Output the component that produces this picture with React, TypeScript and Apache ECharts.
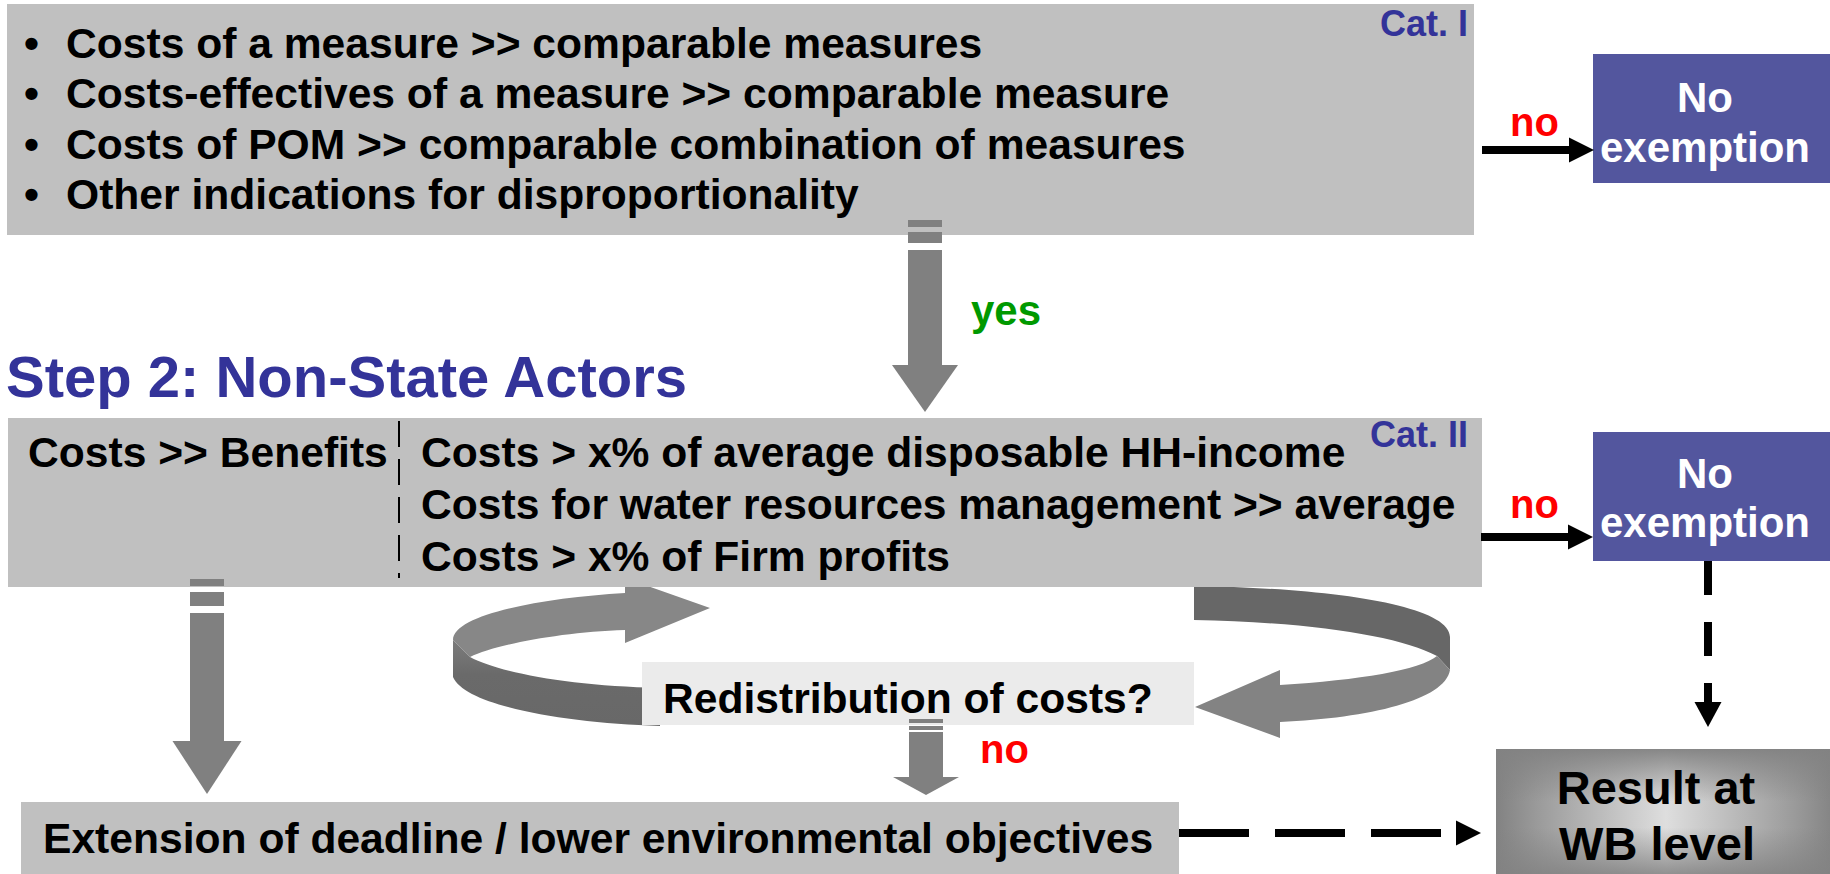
import React, { useEffect, useRef } from "react";
import * as echarts from "echarts";

const FONT = '"Liberation Sans", Arial, Helvetica, sans-serif';
const BODY = 42.6;

// ---- texts ----
const step1Bullets = [
  "Costs of a measure >> comparable measures",
  "Costs-effectives of a measure >> comparable measure",
  "Costs of POM >> comparable combination of measures",
  "Other indications for disproportionality",
];
const step1Baselines = [57.5, 108, 158.5, 209];
const step2Title = "Step 2: Non-State Actors";
const step2Left = "Costs >> Benefits";
const step2Right = [
  "Costs > x% of average disposable HH-income",
  "Costs for water resources management >> average",
  "Costs > x% of Firm profits",
];
const step2Baselines = [467, 519, 571];
const catLabels = ["Cat. I", "Cat. II"];
const noExemption = ["No", "exemption"];
const redistribution = "Redistribution of costs?";
const extension = "Extension of deadline / lower environmental objectives";
const resultLines = ["Result at", "WB level"];

// ---- colours ----
const BOX_GRAY = "#c0c0c0";
const ARROW_GRAY = "#808080";
const BLUE = "#333399";
const BOX_BLUE = "#53569e";

// ---- loop arrow shapes ----
const loopPaths: Record<string, string> = {
  loopLeftTop:
    "M 453 640 C 453 615 540 598 625 593 L 625 578 L 710 608 L 625 643 L 625 630 C 560 632 495 645 470 657 Z",
  loopLeftBottom:
    "M 453 640 L 470 657 C 500 673 570 686 660 688 L 660 726 C 560 723 465 705 453 677 Z",
  loopRightTop:
    "M 1194 586 C 1330 588 1450 605 1450 637 L 1450 670 L 1437 656 C 1400 636 1310 622 1194 620 Z",
  loopRightBottom:
    "M 1437 656 L 1450 670 C 1445 700 1370 718 1280 722 L 1280 738 L 1195 707 L 1280 670 L 1280 685 C 1360 680 1420 670 1437 656 Z",
};
let registered = false;
function registerShapes() {
  if (registered) return;
  registered = true;
  Object.keys(loopPaths).forEach((k) => {
    echarts.graphic.registerShape(k, echarts.graphic.extendPath(loopPaths[k], {}) as any);
  });
}

function txt(
  text: string,
  x: number,
  baseline: number,
  size: number,
  fill: string,
  align: "left" | "center" | "right" = "left"
) {
  return {
    type: "text",
    x,
    y: baseline - 0.347 * size,
    silent: true,
    style: {
      text,
      fill,
      align,
      verticalAlign: "middle",
      font: `bold ${size}px ${FONT}`,
    },
  };
}

function rect(x: number, y: number, w: number, h: number, fill: any) {
  return { type: "rect", shape: { x, y, width: w, height: h }, style: { fill } };
}

function blockArrow(
  cx: number,
  shaftW: number,
  headW: number,
  bits: [number, number][],
  shaftTop: number,
  headTop: number,
  tipY: number
) {
  const els: any[] = [];
  bits.forEach(([a, b]) => els.push(rect(cx - shaftW / 2, a, shaftW, b - a, ARROW_GRAY)));
  els.push(rect(cx - shaftW / 2, shaftTop, shaftW, headTop - shaftTop + 1, ARROW_GRAY));
  els.push({
    type: "polygon",
    shape: {
      points: [
        [cx - headW / 2, headTop],
        [cx + headW / 2, headTop],
        [cx, tipY],
      ],
    },
    style: { fill: ARROW_GRAY },
  });
  return els;
}

function hArrow(x1: number, x2: number, y: number, dash?: number[]) {
  return [
    {
      type: "line",
      shape: { x1, y1: y, x2: x2 - 22, y2: y },
      style: { stroke: "#000", lineWidth: 8, lineDash: dash || null },
    },
    {
      type: "polygon",
      shape: {
        points: [
          [x2 - 25, y - 12.5],
          [x2, y],
          [x2 - 25, y + 12.5],
        ],
      },
      style: { fill: "#000" },
    },
  ];
}

function buildOption() {
  const els: any[] = [];

  // loop arrows (behind boxes)
  els.push({ type: "loopLeftTop", style: { fill: "#878787" } });
  els.push({
    type: "loopLeftBottom",
    style: {
      fill: {
        type: "linear",
        x: 0,
        y: 0,
        x2: 0,
        y2: 1,
        colorStops: [
          { offset: 0, color: "#7c7c7c" },
          { offset: 0.4, color: "#6a6a6a" },
          { offset: 1, color: "#686868" },
        ],
      },
    },
  });
  els.push({ type: "loopRightTop", style: { fill: "#676767" } });
  els.push({ type: "loopRightBottom", style: { fill: "#838383" } });

  // boxes
  els.push(rect(7, 4, 1467, 231, BOX_GRAY));
  els.push(rect(8, 418, 1474, 169, BOX_GRAY));
  els.push(rect(21, 802, 1158, 80, BOX_GRAY));
  els.push(rect(642, 662, 552, 63, "#ebebeb"));
  els.push(rect(1593, 54, 245, 129, BOX_BLUE));
  els.push(rect(1593, 432, 245, 129, BOX_BLUE));

  // result box with path-like gradient
  els.push(
    rect(1496, 749, 340, 131, {
      type: "linear",
      x: 0,
      y: 0,
      x2: 1,
      y2: 0,
      colorStops: [
        { offset: 0, color: "#828282" },
        { offset: 0.12, color: "#9a9a9a" },
        { offset: 0.5, color: "#dedede" },
        { offset: 0.88, color: "#9a9a9a" },
        { offset: 1, color: "#828282" },
      ],
    })
  );
  els.push(
    rect(1496, 749, 340, 131, {
      type: "linear",
      x: 0,
      y: 0,
      x2: 0,
      y2: 1,
      colorStops: [
        { offset: 0, color: "rgba(130,130,130,0.95)" },
        { offset: 0.4, color: "rgba(130,130,130,0)" },
        { offset: 0.6, color: "rgba(130,130,130,0)" },
        { offset: 1, color: "rgba(130,130,130,0.95)" },
      ],
    })
  );

  // dashed divider in step 2 box
  els.push({
    type: "line",
    shape: { x1: 399, y1: 421, x2: 399, y2: 578 },
    style: { stroke: "#000", lineWidth: 2, lineDash: [26, 12] },
  });

  // block arrows
  els.push(...blockArrow(925, 34, 66, [[220, 227], [232, 243]], 250, 365, 412));
  els.push(...blockArrow(207, 34, 69, [[579, 586], [592, 606]], 613, 741, 794));
  els.push(...blockArrow(926, 34, 66, [[719, 723], [726, 730]], 732, 777, 795));

  // solid black arrows
  els.push(...hArrow(1482, 1594, 150));
  els.push(...hArrow(1481, 1593, 537));
  // dashed arrows
  els.push(...hArrow(1179, 1481, 833, [70, 26]));
  els.push({
    type: "line",
    shape: { x1: 1708, y1: 561, x2: 1708, y2: 703 },
    style: { stroke: "#000", lineWidth: 8, lineDash: [34, 27] },
  });
  els.push({
    type: "polygon",
    shape: {
      points: [
        [1694.5, 702],
        [1721.5, 702],
        [1708, 727],
      ],
    },
    style: { fill: "#000" },
  });

  // texts: step 1 box
  step1Bullets.forEach((t, i) => {
    els.push(txt("\u2022", 24, step1Baselines[i], BODY, "#000"));
    els.push(txt(t, 66, step1Baselines[i], BODY, "#000"));
  });
  els.push(txt(catLabels[0], 1468, 35.5, 36, BLUE, "right"));

  // step 2
  els.push(txt(step2Title, 6, 397, 58, BLUE));
  els.push(txt(step2Left, 28, step2Baselines[0], BODY, "#000"));
  step2Right.forEach((t, i) => els.push(txt(t, 421, step2Baselines[i], BODY, "#000")));
  els.push(txt(catLabels[1], 1468, 447, 36, BLUE, "right"));

  // no exemption boxes
  els.push(txt(noExemption[0], 1705, 112, 42, "#fff", "center"));
  els.push(txt(noExemption[1], 1705, 162, 42, "#fff", "center"));
  els.push(txt(noExemption[0], 1705, 488, 42, "#fff", "center"));
  els.push(txt(noExemption[1], 1705, 537, 42, "#fff", "center"));

  // yes / no labels
  els.push(txt("yes", 971, 325, 42, "#009900"));
  els.push(txt("no", 1510, 136, 40, "#ff0000"));
  els.push(txt("no", 1510, 518, 40, "#ff0000"));
  els.push(txt("no", 980, 763, 40, "#ff0000"));

  els.push(txt(redistribution, 663, 713, BODY, "#000"));
  els.push(txt(extension, 43, 853, BODY, "#000"));
  els.push(txt(resultLines[0], 1656, 804, 47, "#000", "center"));
  els.push(txt(resultLines[1], 1657, 860, 47, "#000", "center"));

  return {
    animation: false,
    backgroundColor: "#ffffff",
    graphic: { elements: els },
  };
}

export default function App() {
  const ref = useRef<HTMLDivElement>(null);
  useEffect(() => {
    document.body.style.margin = "0";
    registerShapes();
    if (!ref.current) return;
    const chart = echarts.init(ref.current, undefined, { renderer: "svg" });
    chart.setOption(buildOption() as any);
    return () => chart.dispose();
  }, []);
  return (
    <div
      ref={ref}
      style={{ position: "fixed", left: 0, top: 0, width: 1830, height: 874, background: "#fff" }}
    />
  );
}
